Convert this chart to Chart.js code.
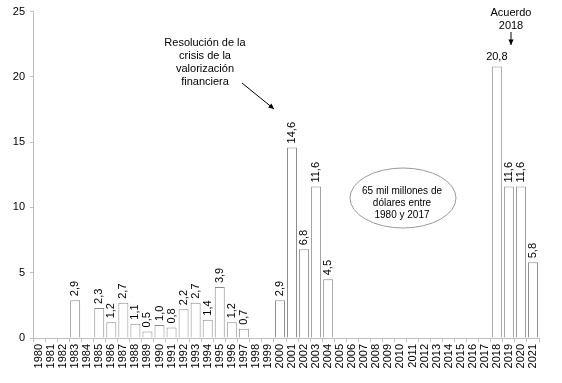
<!DOCTYPE html>
<html>
<head>
<meta charset="utf-8">
<script src="https://cdn.jsdelivr.net/npm/chart.js@4"></script>
<style>
  body{margin:0;background:#fff;}
  #wrap{width:562px;height:383px;position:relative;}
</style>
</head>
<body>
<div id="wrap"><canvas id="c1"></canvas></div>
<script>
var years=[];
for(var y=1980;y<=2021;y++){ years.push(String(y)); }
// miles de millones de dolares por año (null = sin dato)
var valores=[null,null,null,2.9,null,2.3,1.2,2.7,1.1,0.5,1.0,0.8,2.2,2.7,1.4,3.9,1.2,0.7,null,null,
             2.9,14.6,6.8,11.6,4.5,null,null,null,null,null,null,null,null,null,null,null,null,null,
             20.8,11.6,11.6,5.8];
var yTicks=[0,5,10,15,20,25];
var notaCrisis=["Resolución de la","crisis de la","valorización","financiera"];
var notaAcuerdo=["Acuerdo","2018"];
var notaTotal=["65 mil millones de","dólares entre","1980 y 2017"];
var FONT='"Liberation Sans", Arial, sans-serif';

function flecha(ctx,x1,y1,x2,y2){
	var ang=Math.atan2(y2-y1,x2-x1);
	ctx.beginPath();
	ctx.moveTo(x1,y1); ctx.lineTo(x2,y2);
	ctx.stroke();
	ctx.beginPath();
	ctx.moveTo(x2,y2);
	ctx.lineTo(x2-6*Math.cos(ang-0.45),y2-6*Math.sin(ang-0.45));
	ctx.lineTo(x2-6*Math.cos(ang+0.45),y2-6*Math.sin(ang+0.45));
	ctx.closePath(); ctx.fill();
}

var etiquetas={
	id:'etiquetas',
	afterDatasetsDraw:function(chart){
		var ctx=chart.ctx;
		var meta=chart.getDatasetMeta(0);
		ctx.save();
		ctx.fillStyle='#000';
		ctx.font='11px '+FONT;
		meta.data.forEach(function(bar,i){
			var v=valores[i];
			if(v==null) return;
			var txt=v.toFixed(1).replace('.',',');
			if(v>20){
				ctx.textAlign='center'; ctx.textBaseline='bottom';
				ctx.fillText(txt,bar.x,bar.y-4);
			}else{
				ctx.save();
				ctx.translate(bar.x,bar.y-4);
				ctx.rotate(-Math.PI/2);
				ctx.textAlign='left'; ctx.textBaseline='middle';
				ctx.fillText(txt,0,0);
				ctx.restore();
			}
		});
		ctx.restore();
	},
	afterDraw:function(chart){
		var ctx=chart.ctx;
		ctx.save();
		ctx.fillStyle='#000'; ctx.strokeStyle='#000'; ctx.lineWidth=1;
		ctx.font='11px '+FONT;
		ctx.textAlign='center'; ctx.textBaseline='middle';
		notaCrisis.forEach(function(t,i){ ctx.fillText(t,205,43+i*13); });
		flecha(ctx,242,83,274,109);
		notaAcuerdo.forEach(function(t,i){ ctx.fillText(t,511,13+i*12.5); });
		flecha(ctx,511,32,511,45);
		// elipse
		ctx.beginPath();
		ctx.ellipse(403,198,53,30,0,0,Math.PI*2);
		ctx.fillStyle='#ffffff'; ctx.fill();
		ctx.strokeStyle='#999999'; ctx.stroke();
		ctx.fillStyle='#000';
		ctx.font='10px '+FONT;
		notaTotal.forEach(function(t,i){ ctx.fillText(t,402,191+i*12); });
		ctx.restore();
	}
};

var ctx1=document.getElementById('c1').getContext('2d');
var myChart=new Chart(ctx1,{
	type:'bar',
	data:{
		labels:years,
		datasets:[{
			data:valores,
			backgroundColor:'#ffffff',
			borderColor:'#8c8c8c',
			borderWidth:1,
			barPercentage:0.83,
			categoryPercentage:1
		}]
	},
	options:{
		responsive:true,
		maintainAspectRatio:false,
		animation:false,
		layout:{padding:{left:0,right:23,top:11,bottom:0}},
		plugins:{legend:{display:false},tooltip:{enabled:false}},
		scales:{
			x:{
				afterFit:function(s){ s.height=45; },
				border:{color:'#bfbfbf'},
				grid:{drawOnChartArea:false,drawTicks:true,tickLength:4,color:'#bfbfbf'},
				ticks:{color:'#000',font:{size:11,family:FONT},minRotation:90,maxRotation:90,autoSkip:false,padding:2}
			},
			y:{
				min:0,max:25,
				afterFit:function(s){ s.width=33; },
				afterBuildTicks:function(s){ s.ticks=yTicks.map(function(v){return {value:v};}); },
				border:{color:'#bfbfbf'},
				grid:{drawOnChartArea:false,drawTicks:true,tickLength:3,color:'#bfbfbf'},
				ticks:{color:'#000',font:{size:11,family:FONT},padding:5}
			}
		}
	},
	plugins:[etiquetas]
});
</script>
</body>
</html>
